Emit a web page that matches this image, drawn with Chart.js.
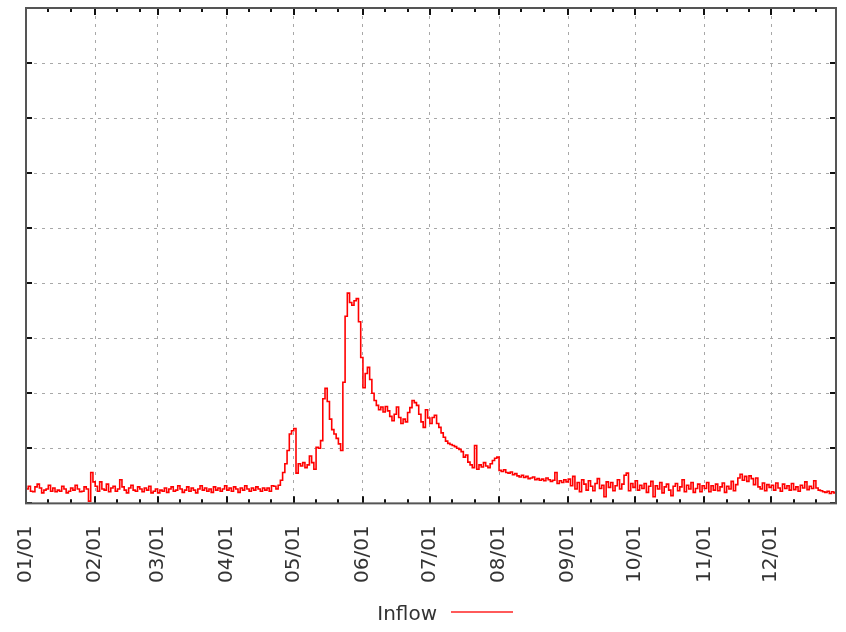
<!DOCTYPE html>
<html>
<head>
<meta charset="utf-8">
<script src="https://cdn.jsdelivr.net/npm/chart.js@4/dist/chart.umd.min.js"></script>
<style>
  html, body { margin: 0; padding: 0; background: #fff; }
  #wrap { width: 846px; height: 632px; }
</style>
</head>
<body>
<div id="wrap"><canvas id="c" width="846" height="632"></canvas></div>
<script>
// Month tick labels and the day-of-year each month starts on
const monthLabels = ['01/01','02/01','03/01','04/01','05/01','06/01','07/01','08/01','09/01','10/01','11/01','12/01'];
const monthStartDays = [0,31,59,90,120,151,181,212,243,273,304,334];
// Minor ticks on the 11th and 21st of every month
const minorTickDays = monthStartDays.flatMap(d => [d + 10, d + 20]);

// Daily inflow, one array per month
const inflowJan = [2.6,3.1,2.2,2.1,3.0,3.5,2.8,1.9,2.4,2.6,3.3,2.2,2.8,2.1,2.4,2.2,3.1,2.6,1.9,2.2,2.8,2.4,3.3,2.6,2.1,2.2,3.0,2.6,0.4,5.6,3.9];
const inflowFeb = [3.1,2.2,3.9,2.6,2.4,3.5,2.1,2.8,3.1,2.2,2.6,4.3,3.0,2.4,1.9,2.8,3.3,2.4,2.2,3.0,2.6,2.1,2.8,2.4,3.1,1.9,2.2,2.6];
const inflowMar = [1.9,2.4,2.2,2.8,2.0,2.6,3.0,2.2,2.4,3.2,2.6,2.0,2.4,3.0,2.2,2.8,2.4,1.9,2.6,3.2,2.4,2.8,2.2,2.6,2.0,3.0,2.4,2.8,2.2,2.6,3.2];
const inflowApr = [2.4,2.8,2.2,3.0,2.6,2.0,2.8,2.4,3.2,2.6,2.2,2.8,2.4,3.0,2.6,2.2,2.8,2.4,2.8,2.2,3.2,3.1,2.6,3.3,4.2,5.6,7.2,9.6,12.6,13.2];
const inflowMay = [13.6,5.5,7.2,6.8,7.4,6.5,7.0,8.6,7.4,6.2,10.2,10.0,11.4,19.0,20.9,18.5,15.3,13.4,12.6,11.8,10.8,9.6,22.0,34.0,38.2,36.5,36.0,36.8,37.2,33.0,26.5];
const inflowJun = [21.0,23.6,24.7,22.5,20.0,18.7,17.8,17.0,17.5,16.6,17.6,16.8,15.8,15.0,16.2,17.5,15.6,14.5,15.3,14.8,16.5,17.4,18.7,18.3,17.8,16.2,14.8,13.8,17.0,15.5];
const inflowJul = [14.5,15.6,16.0,14.5,13.8,12.8,12.0,11.3,10.9,10.7,10.5,10.3,10.0,9.8,9.4,8.4,8.8,7.5,7.0,6.5,10.5,6.2,7.0,6.6,7.4,6.8,6.5,7.2,7.8,8.2,8.4];
const inflowAug = [6.0,5.8,6.1,5.6,5.5,5.7,5.2,5.4,5.0,4.8,5.1,4.7,4.9,4.5,4.6,4.8,4.3,4.5,4.2,4.4,4.1,4.6,4.3,4.0,4.2,5.6,3.6,4.1,3.8,4.3,3.9];
const inflowSep = [4.4,3.2,4.9,2.6,3.8,2.1,4.3,3.5,2.4,4.1,3.1,2.3,3.6,4.5,2.7,3.3,1.2,3.9,2.9,3.8,2.3,3.2,4.3,2.6,3.5,5.1,5.5,2.3,3.6,2.9];
const inflowOct = [4.1,2.4,3.3,2.7,3.6,2.0,3.1,4.0,1.2,3.2,2.6,3.8,1.9,3.0,3.5,2.4,1.4,3.1,3.6,2.3,3.0,4.3,2.1,3.3,2.6,3.8,2.0,2.7,3.5,2.1,3.2];
const inflowNov = [2.7,3.8,2.1,3.2,2.4,3.5,2.3,3.0,3.7,2.0,3.1,2.6,4.0,2.3,3.4,4.6,5.3,4.2,4.9,4.0,5.0,4.5,3.4,4.6,3.0,2.6,3.7,2.3,3.4,2.9];
const inflowDec = [3.3,2.4,3.7,2.8,2.2,3.5,2.7,3.2,2.4,3.6,2.5,3.0,2.2,3.3,2.8,3.9,2.5,3.1,2.7,4.1,2.8,2.4,2.3,2.1,2.0,2.2,1.8,2.1,1.9,1.8];

const inflow = [].concat(inflowJan, inflowFeb, inflowMar, inflowApr, inflowMay, inflowJun,
                         inflowJul, inflowAug, inflowSep, inflowOct, inflowNov, inflowDec);
const points = inflow.map((v, i) => ({ x: i, y: v }));
const lastDay = inflow.length - 1;

const FONT = 'DejaVu Sans';

// Frame, inward tick marks on all four sides, and the legend under the axis
const framePlugin = {
  id: 'frame',
  afterDraw(chart) {
    const { ctx, chartArea: { left, right, top, bottom }, scales: { x, y } } = chart;
    const seg = (x1, y1, x2, y2) => { ctx.beginPath(); ctx.moveTo(x1, y1); ctx.lineTo(x2, y2); ctx.stroke(); };
    ctx.save();
    ctx.strokeStyle = '#111';
    ctx.lineWidth = 2;
    monthStartDays.forEach(d => {
      const px = Math.round(x.getPixelForValue(d));
      seg(px, bottom, px, bottom - 7);
      seg(px, top, px, top + 7);
    });
    minorTickDays.filter(d => d <= lastDay).forEach(d => {
      const px = Math.round(x.getPixelForValue(d));
      seg(px, bottom, px, bottom - 4);
      seg(px, top, px, top + 4);
    });
    y.ticks.forEach(t => {
      const py = Math.round(y.getPixelForValue(t.value));
      seg(left, py, left + 6, py);
      seg(right, py, right - 6, py);
    });
    ctx.strokeStyle = '#555';
    ctx.lineWidth = 2;
    ctx.strokeRect(left, top, right - left, bottom - top);

    // legend: label text followed by a line sample
    const ds = chart.data.datasets[0];
    ctx.font = '20px "' + FONT + '"';
    ctx.fillStyle = '#333';
    ctx.textAlign = 'right';
    ctx.textBaseline = 'middle';
    ctx.fillText(ds.label, 437, 615);
    ctx.strokeStyle = '#ff5a5a';
    ctx.lineWidth = 2;
    seg(451, 612, 513, 612);
    ctx.restore();
  }
};

new Chart(document.getElementById('c'), {
  type: 'line',
  data: {
    datasets: [{
      label: 'Inflow',
      data: points,
      borderColor: '#ff0000',
      borderWidth: 1.6,
      pointRadius: 0,
      stepped: true,
      fill: false
    }]
  },
  options: {
    responsive: false,
    devicePixelRatio: 1,
    animation: false,
    layout: { padding: { left: 26, right: 10, top: 8, bottom: 27 } },
    plugins: { legend: { display: false }, tooltip: { enabled: false } },
    scales: {
      x: {
        type: 'linear',
        min: 0,
        max: lastDay,
        afterBuildTicks: s => { s.ticks = monthStartDays.map(v => ({ value: v })); },
        ticks: {
          autoSkip: false,
          minRotation: 90,
          maxRotation: 90,
          padding: 22,
          color: '#333',
          font: { family: FONT, size: 20 },
          callback: v => monthLabels[monthStartDays.indexOf(v)]
        },
        grid: { color: '#a8a8a8', lineWidth: 1, drawTicks: false, tickLength: 0 },
        border: { display: false, dash: [3, 5] }
      },
      y: {
        min: 0,
        max: 90,
        ticks: { stepSize: 10, display: false },
        grid: { color: '#a8a8a8', lineWidth: 1, drawTicks: false, tickLength: 0 },
        border: { display: false, dash: [3, 5] }
      }
    }
  },
  plugins: [framePlugin]
});
</script>
</body>
</html>
